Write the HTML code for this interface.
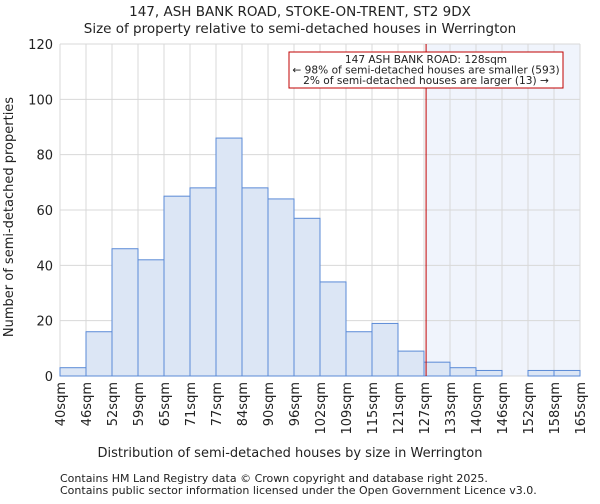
<!DOCTYPE html>
<html><head><meta charset="utf-8"><style>
body{margin:0;background:#fff;font-family:"DejaVu Sans","Liberation Sans",sans-serif;}
svg text{font-family:"DejaVu Sans","Liberation Sans",sans-serif;fill:#222;}
</style></head><body>
<svg id="chart" width="600" height="500" xmlns="http://www.w3.org/2000/svg">
<text x="300" y="16" text-anchor="middle" font-size="13.5">147, ASH BANK ROAD, STOKE-ON-TRENT, ST2 9DX</text>
<text x="300" y="33" text-anchor="middle" font-size="13.5">Size of property relative to semi-detached houses in Werrington</text>
<g id="plot"></g>
<text x="290" y="457" text-anchor="middle" font-size="13">Distribution of semi-detached houses by size in Werrington</text>
<text transform="translate(13,217) rotate(-90)" text-anchor="middle" font-size="13">Number of semi-detached properties</text>
<text x="60" y="482" font-size="11">Contains HM Land Registry data © Crown copyright and database right 2025.</text>
<text x="60" y="494" font-size="11">Contains public sector information licensed under the Open Government Licence v3.0.</text>
</svg>
<script>
const categories=["40sqm","46sqm","52sqm","59sqm","65sqm","71sqm","77sqm","84sqm","90sqm","96sqm","102sqm","109sqm","115sqm","121sqm","127sqm","133sqm","140sqm","146sqm","152sqm","158sqm","165sqm"];
const counts=[3,16,46,42,65,68,86,68,64,57,34,16,19,9,5,3,2,0,2,2];
const yTicks=[0,20,40,60,80,100,120];
const binStart=40, binWidth=6.25, propertySize=128;
const ns="http://www.w3.org/2000/svg";
const L=60,R=580,T=44,B=376,yMax=120;
const xs=i=>L+i*(R-L)/counts.length;
const xv=v=>L+(v-binStart)/binWidth*(R-L)/counts.length;
const ys=v=>B-v/yMax*(B-T);
const g=document.getElementById('plot');
function mk(t,a){const e=document.createElementNS(ns,t);for(const k in a)e.setAttribute(k,a[k]);g.appendChild(e);return e;}
let e;
const px=xv(propertySize);
e=mk('rect',{x:px,y:T,width:R-px,height:B-T,fill:'#f0f4fc'});


yTicks.forEach(v=>{
 e=mk('line',{x1:L,x2:R,y1:ys(v),y2:ys(v),stroke:'#d8d8d8'});
 
 
 e=mk('text',{x:L-7,y:ys(v)+5,'text-anchor':'end','font-size':13});e.textContent=v;
 
 
});
categories.forEach((c,i)=>{
 e=mk('line',{x1:xs(i),x2:xs(i),y1:T,y2:B,stroke:'#d8d8d8'});
 
 
 e=mk('text',{transform:`translate(${xs(i)+5},382) rotate(-90)`,'text-anchor':'end','font-size':13});e.textContent=c;
 
 
});
counts.forEach((v,i)=>{
 e=mk('rect',{x:xs(i),y:ys(v),width:xs(i+1)-xs(i),height:B-ys(v),fill:'#dce6f5',stroke:'#5a8ad6','stroke-width':1});
 
 
});
e=mk('line',{x1:px,x2:px,y1:T,y2:B,stroke:'#c00000','stroke-width':1});


e=mk('rect',{x:289,y:52,width:274,height:36,fill:'#fff',stroke:'#c00000'});


["147 ASH BANK ROAD: 128sqm","← 98% of semi-detached houses are smaller (593)","2% of semi-detached houses are larger (13) →"].forEach((t,i)=>{
 e=mk('text',{x:426,y:63+i*10.5,'text-anchor':'middle','font-size':10.6});e.textContent=t;
 
 
});
</script>
</body></html>
